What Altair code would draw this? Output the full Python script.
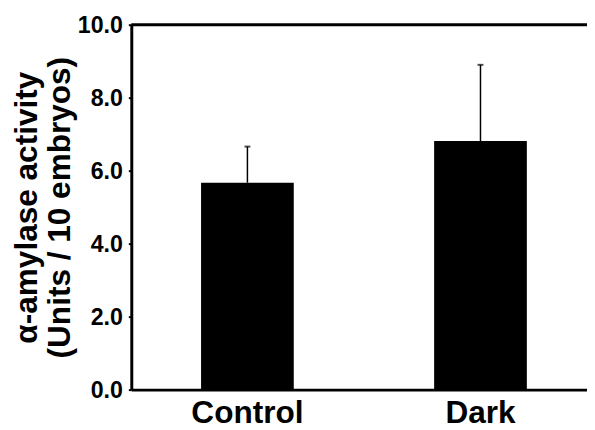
import altair as alt
import pandas as pd

categories = ["Control", "Dark"]
means = [5.67, 6.81]
uppers = [6.66, 8.90]
y_ticks = [0, 2, 4, 6, 8, 10]
y_title = ["α-amylase activity", "(Units / 10 embryos)"]

df = pd.DataFrame({"cat": categories, "mean": means, "upper": uppers})
top_df = pd.DataFrame({"top": [y_ticks[-1]]})

FONT = "Liberation Sans"

x_enc = alt.X(
    "cat:N",
    sort=categories,
    scale=alt.Scale(paddingInner=0.6022, paddingOuter=0.2787, align=0.537, round=False),
    axis=alt.Axis(
        title=None,
        labelAngle=0,
        labelFontSize=32,
        labelFont=FONT,
        labelFontWeight="bold",
        labelColor="black",
        ticks=False,
        tickSize=0,
        labelPadding=8,
        domainColor="black",
        domainWidth=3,
    ),
)

y_scale = alt.Scale(domain=[y_ticks[0], y_ticks[-1]], nice=False)

y_enc = alt.Y(
    "mean:Q",
    scale=y_scale,
    axis=alt.Axis(
        title=y_title,
        values=y_ticks,
        format=".1f",
        grid=False,
        labelFontSize=23.5,
        labelFont=FONT,
        labelFontWeight="bold",
        labelColor="black",
        labelPadding=6,
        labelOffset=1,
        tickSize=3,
        tickWidth=2,
        tickColor="black",
        domainColor="black",
        domainWidth=3,
        titleFont=FONT,
        titleFontSize=32,
        titleFontWeight="bold",
        titleColor="black",
        titleLineHeight=33.5,
        titleAngle=270,
        titleAlign="center",
        titleBaseline="alphabetic",
        titleX=-95.7,
        titleY=185,
    ),
)

base = alt.Chart(df).encode(x=x_enc)

bars = base.mark_bar(color="black").encode(y=y_enc)
rule = base.mark_rule(color="black", strokeWidth=1.5).encode(
    y=alt.Y("mean:Q", scale=y_scale), y2="upper:Q"
)
cap = base.mark_tick(color="black", size=6, thickness=2).encode(
    y=alt.Y("upper:Q", scale=y_scale)
)
top = alt.Chart(top_df).mark_rule(color="black", strokeWidth=3).encode(
    y=alt.Y("top:Q", scale=y_scale)
)

chart = (
    alt.layer(bars, rule, cap, top)
    .properties(
        width=462,
        height=370,
        autosize=alt.AutoSizeParams(type="none"),
        padding={"left": 125, "top": 14, "right": 0, "bottom": 38},
        background="white",
    )
    .configure_view(stroke=None)
)

chart.save("out.html", embed_options={"renderer": "svg", "actions": False})
